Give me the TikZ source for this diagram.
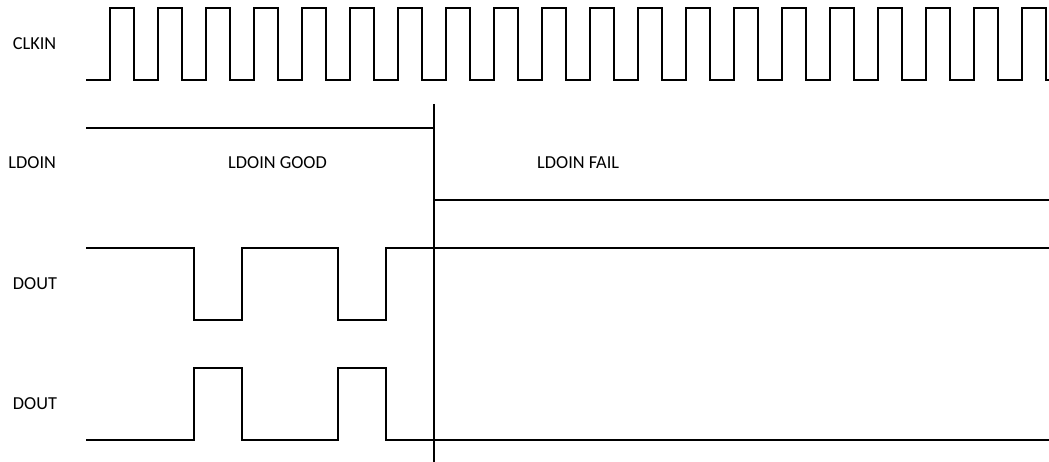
\documentclass[tikz,border=0pt]{standalone}
\usepackage{fontspec}
\setmainfont{Carlito}
\begin{document}
\begin{tikzpicture}[x=1bp,y=-1bp,
  wave/.style={line width=1.8bp,line join=miter,black},
  divider/.style={line width=2.4bp,black},
  lbl/.style={anchor=west,inner sep=0pt,font=\fontsize{18.3bp}{20bp}\selectfont}]
\useasboundingbox (0,0) rectangle (1049,462);
% labels
\node[lbl] (clk) at (12.7,43.7) {CLKIN};
\node[lbl] (ldo) at (8.3,163) {LDOIN};
\node[lbl] (good) at (228,163) {LDOIN GOOD};
\node[lbl] (fail) at (537,163) {LDOIN FAIL};
\node[lbl] (dout1) at (12.7,283.5) {DOUT};
\node[lbl] (dout2) at (12.7,404) {DOUT};
% clock
\draw[wave] (86,80) foreach \i in {0,...,19} {
  -- ({110+48*\i},80) -- ({110+48*\i},8) -- ({134+48*\i},8) -- ({134+48*\i},80) } -- (1049,80);
% LDOIN
\draw[wave] (86,128) -- (434,128);
\draw[wave] (434,200) -- (1049,200);
% DOUT 1
\draw[wave] (86,248) -- (194,248) -- (194,320) -- (242,320) -- (242,248) -- (338,248) -- (338,320) -- (386,320) -- (386,248) -- (1049,248);
% DOUT 2
\draw[wave] (86,440) -- (194,440) -- (194,368) -- (242,368) -- (242,440) -- (338,440) -- (338,368) -- (386,368) -- (386,440) -- (1049,440);
% divider
\draw[divider] (434,104) -- (434,462);
\end{tikzpicture}
\end{document}
